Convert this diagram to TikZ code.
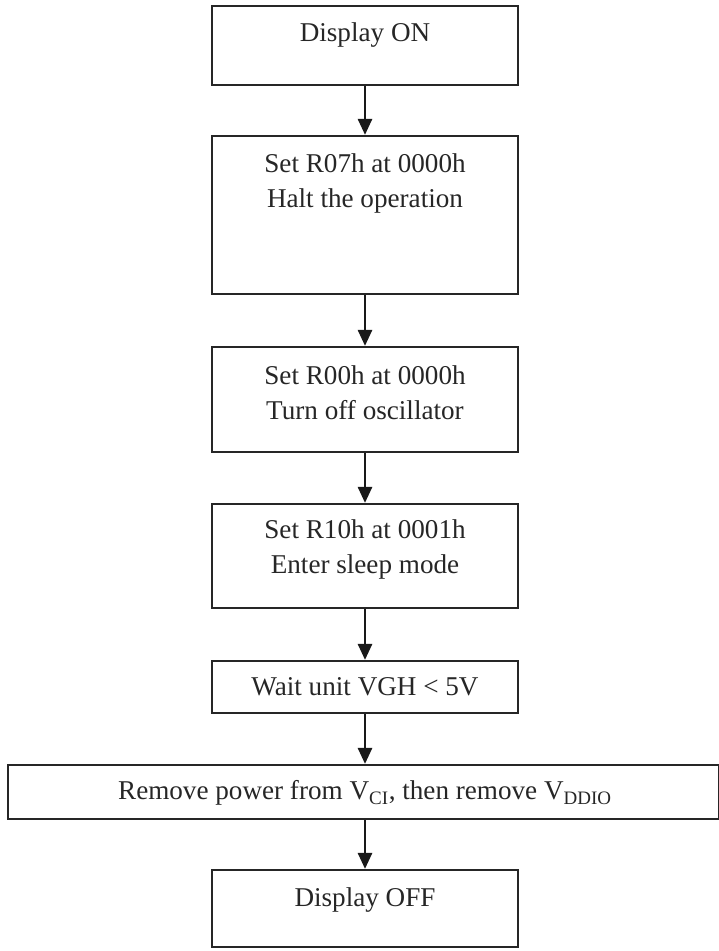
\documentclass[tikz,border=0pt]{standalone}
\usepackage{fontspec}
\setmainfont{Liberation Serif}
\usetikzlibrary{arrows.meta}

\begin{document}
\begin{tikzpicture}[x=0.025cm,y=-0.025cm,
	box/.style={draw=black!85, line width=1.7pt, inner sep=0pt, minimum width=7.65cm},
	txt/.style={align=center, inner sep=0pt, text=black!85, font=\fontsize{19.3}{24.5}\selectfont},
	pile/.style={draw=black!90, line width=1.3pt, -{Triangle[length=0.4cm,width=0.36cm]}}]

	\useasboundingbox (0,0) rectangle (718,951);

	% Boxes
	\node[box, minimum height=1.975cm] (on) at (365,45.5) {};
	\node[box, minimum height=3.95cm] (halt) at (365,215) {};
	\node[box, minimum height=2.625cm] (osc) at (365,399.5) {};
	\node[box, minimum height=2.6cm] (sleep) at (365,556) {};
	\node[box, minimum height=1.3cm] (wait) at (365,687) {};
	\node[box, minimum height=1.35cm, minimum width=17.775cm] (power) at (363.5,792) {};
	\node[box, minimum height=1.925cm] (off) at (365,908.5) {};

	% Texts
	\node[txt] (ontxt) at (365,35) {Display ON};
	\node[txt] (halttxt) at (365,183.5) {Set R07h at 0000h\\Halt the operation};
	\node[txt] (osctxt) at (365,392.5) {Set R00h at 0000h\\Turn off oscillator};
	\node[txt] (sleeptxt) at (365,549.5) {Set R10h at 0001h\\Enter sleep mode};
	\node[txt] (waittxt) at (365,687) {Wait unit VGH < 5V};
	\node[txt] (powertxt) at (365,793) {Remove power from V\textsubscript{CI}, then remove V\textsubscript{DDIO}};
	\node[txt] (offtxt) at (365,900) {Display OFF};

	% Arrows
	\draw[pile] (on.south) -- (halt.north);
	\draw[pile] (halt.south) -- (osc.north);
	\draw[pile] (osc.south) -- (sleep.north);
	\draw[pile] (sleep.south) -- (wait.north);
	\draw[pile] (wait.south) -- (power.north -| wait.south);
	\draw[pile] (power.south -| off.north) -- (off.north);

\end{tikzpicture}
\end{document}
